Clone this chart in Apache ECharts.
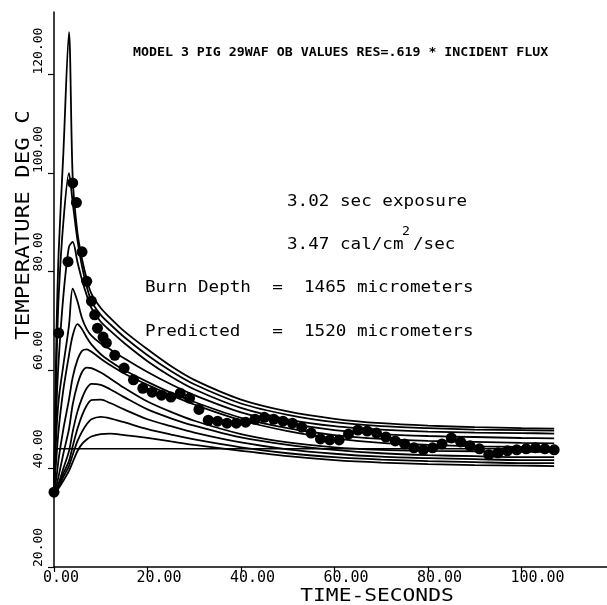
<!DOCTYPE html>
<html>
<head>
<meta charset="utf-8">
<script src="https://cdn.jsdelivr.net/npm/echarts@6/dist/echarts.min.js"></script>
<style>
html,body{margin:0;padding:0;background:#fff;}
#chart{width:607px;height:605px;}
</style>
</head>
<body>
<div id="chart"></div>
<script>
// ---- data ----
const TIME = [0, 0.5, 1, 2, 3.2, 4, 5, 6, 7, 8, 10, 12, 15, 20, 25, 30, 40, 50, 60, 70, 80, 90, 100, 107];
const CURVE_1  = [35.5, 66, 84, 104, 128.6, 99, 88, 82.5, 78.5, 75.5, 72.6, 70.6, 67.9, 64.2, 60.8, 58, 54, 51.6, 50.1, 49.2, 48.7, 48.4, 48.2, 48.1];
const CURVE_2  = [35.5, 60, 75, 90, 100, 94, 86.5, 81, 77, 74, 71.2, 69.3, 66.7, 63, 59.8, 57.1, 53.2, 50.9, 49.4, 48.6, 48.2, 47.9, 47.8, 47.7];
const CURVE_3  = [35.5, 52, 62, 75, 85, 86, 82, 78.3, 75.2, 72.6, 69.8, 68, 65.5, 61.8, 58.7, 56.1, 52.3, 50, 48.6, 47.9, 47.5, 47.3, 47.2, 47.1];
const CURVE_4  = [35.5, 47, 54, 61, 69, 76.5, 74, 70.5, 68.3, 67, 65.4, 64.2, 62.4, 59.6, 57.1, 54.9, 51.4, 49.2, 47.8, 47, 46.6, 46.4, 46.2, 46.1];
const CURVE_5  = [35.5, 42, 48, 56, 63, 67, 69.3, 68.3, 66.6, 65.2, 63.2, 61.8, 60, 57.6, 55.4, 53.5, 50.3, 48.2, 46.8, 46, 45.6, 45.4, 45.2, 45.1];
const CURVE_6  = [35.5, 38, 42, 48, 54, 58.5, 62, 63.9, 64.2, 63.7, 62.3, 61, 59.3, 57, 54.9, 53, 49.8, 47.6, 46.1, 45.2, 44.8, 44.5, 44.4, 44.3];
const CURVE_7  = [35.5, 36.5, 38.5, 43, 48, 53, 57, 59.6, 60.5, 60.4, 59.5, 58.3, 56.4, 53.6, 51.5, 49.7, 47, 45.3, 44.3, 43.8, 43.6, 43.5, 43.4, 43.4];
const CURVE_8  = [35.5, 36, 37, 40, 43.5, 47.5, 51.5, 54.3, 56.3, 57.2, 57, 56.1, 54.5, 52, 50.2, 48.7, 46.3, 44.8, 43.8, 43.1, 42.7, 42.5, 42.3, 42.3];
const CURVE_9  = [35.5, 35.8, 36.5, 39, 41.5, 44.5, 48, 50.8, 52.8, 53.9, 54, 53.3, 52, 50, 48.6, 47.3, 45.3, 43.9, 43, 42.4, 42.1, 41.9, 41.7, 41.7];
const CURVE_10 = [35.5, 35.7, 36.2, 38.3, 40.5, 42.8, 45.5, 47.5, 49, 50, 50.5, 50.2, 49.4, 48, 46.9, 45.9, 44.3, 43.1, 42.3, 41.8, 41.5, 41.3, 41.1, 41.1];
const CURVE_11 = [35.5, 35.6, 36, 37.5, 39.5, 41.3, 43.5, 45, 45.9, 46.5, 47, 47.1, 46.8, 46.2, 45.5, 44.8, 43.6, 42.5, 41.7, 41.2, 40.9, 40.7, 40.6, 40.5];
const CURVES = [CURVE_1, CURVE_2, CURVE_3, CURVE_4, CURVE_5, CURVE_6, CURVE_7, CURVE_8, CURVE_9, CURVE_10, CURVE_11];

const MEAS_T = [0, 1, 3, 4, 4.8, 6, 7, 8, 8.7, 9.3, 10.5, 11.2, 13, 15, 17, 19, 21, 23, 25, 27, 29, 31, 33, 35, 37, 39, 41, 43, 45, 47, 49, 51, 53, 55, 57, 59, 61, 63, 65, 67, 69, 71, 73, 75, 77, 79, 81, 83, 85, 87, 89, 91, 93, 95, 97, 99, 101, 103, 105, 107];
const MEAS_V = [35.2, 67.5, 82, 98, 94, 84, 78, 74, 71.2, 68.5, 66.7, 65.5, 63, 60.4, 58, 56.3, 55.5, 54.9, 54.5, 55.3, 54.3, 52, 49.8, 49.6, 49.2, 49.2, 49.4, 50, 50.4, 50, 49.6, 49.2, 48.4, 47.2, 46, 45.8, 45.8, 47, 47.8, 47.6, 47.2, 46.4, 45.6, 45, 44.2, 43.8, 44.2, 45, 46.2, 45.4, 44.6, 44, 42.8, 43.2, 43.6, 43.8, 44, 44.2, 44, 43.8];

const REF_LEVEL = 44;
const REF_T = [0, 107];
const X_TICKS = [0, 20, 40, 60, 80, 100];
const Y_TICKS = [20, 40, 60, 80, 100, 120];

const TITLE = 'MODEL 3 PIG 29WAF OB VALUES RES=.619 * INCIDENT FLUX';
const NOTE_1 = '3.02 sec exposure';
const NOTE_2A = '3.47 cal/cm', NOTE_2B = '2', NOTE_2C = '/sec';
const NOTE_3 = 'Burn Depth  =  1465 micrometers';
const NOTE_4 = 'Predicted   =  1520 micrometers';
const X_NAME = 'TIME-SECONDS';
const Y_NAME = 'TEMPERATURE DEG C';

// ---- chart ----
const MONO = '"DejaVu Sans Mono", monospace';
const chart = echarts.init(document.getElementById('chart'), null, {renderer: 'canvas'});

const series = CURVES.map(c => ({
  type: 'line',
  data: TIME.map((t, i) => [t, c[i]]),
  showSymbol: false,
  smooth: 0.3,
  lineStyle: {color: '#000', width: 1.8},
  silent: true,
  z: 2
}));
series.push({
  type: 'line',
  data: REF_T.map(t => [t, REF_LEVEL]),
  showSymbol: false,
  lineStyle: {color: '#000', width: 1.5},
  z: 2
});
series.push({
  type: 'scatter',
  data: MEAS_T.map((t, i) => [t, MEAS_V[i]]),
  symbol: 'circle',
  symbolSize: 11,
  itemStyle: {color: '#000', opacity: 1},
  z: 3
});

const option = {
  animation: false,
  backgroundColor: '#fff',
  grid: {left: 54, right: 0, top: 12, bottom: 38, containLabel: false},
  xAxis: {
    type: 'value', min: 0, max: 118.3, interval: 20,
    splitLine: {show: false},
    axisLine: {show: true, lineStyle: {color: '#000', width: 1.5}},
    axisTick: {show: true, customValues: X_TICKS, length: 5, lineStyle: {color: '#000', width: 1.2}},
    axisLabel: {
      customValues: X_TICKS,
      formatter: v => v.toFixed(2),
      color: '#000', fontFamily: MONO, fontSize: 15,
      align: 'left', padding: [0, 0, 0, -11], margin: 4
    }
  },
  yAxis: {
    type: 'value', min: 20, max: 132.7, interval: 20,
    splitLine: {show: false},
    axisLine: {show: true, lineStyle: {color: '#000', width: 1.5}},
    axisTick: {show: true, customValues: Y_TICKS, length: 6, lineStyle: {color: '#000', width: 1.2}},
    axisLabel: {
      customValues: Y_TICKS,
      formatter: v => v.toFixed(2),
      rotate: 90,
      color: '#000', fontFamily: MONO, fontSize: 13,
      align: 'left', verticalAlign: 'bottom', margin: 9
    }
  },
  graphic: [
    {type: 'text', x: 133, y: 53, scaleX: 1.105, style: {text: TITLE, font: 'bold 12px ' + MONO, fill: '#000', textVerticalAlign: 'middle'}},
    {type: 'text', x: 287, y: 202, scaleX: 1.10, style: {text: NOTE_1, font: '16px ' + MONO, fill: '#000', textVerticalAlign: 'middle'}},
    {type: 'text', x: 287, y: 245, scaleX: 1.10, style: {text: NOTE_2A, font: '16px ' + MONO, fill: '#000', textVerticalAlign: 'middle'}},
    {type: 'text', x: 402, y: 232, scaleX: 1.10, style: {text: NOTE_2B, font: '12px ' + MONO, fill: '#000', textVerticalAlign: 'middle'}},
    {type: 'text', x: 413, y: 245, scaleX: 1.10, style: {text: NOTE_2C, font: '16px ' + MONO, fill: '#000', textVerticalAlign: 'middle'}},
    {type: 'text', x: 145, y: 288, scaleX: 1.10, style: {text: NOTE_3, font: '16px ' + MONO, fill: '#000', textVerticalAlign: 'middle'}},
    {type: 'text', x: 145, y: 332, scaleX: 1.10, style: {text: NOTE_4, font: '16px ' + MONO, fill: '#000', textVerticalAlign: 'middle'}},
    {type: 'text', x: 377, y: 596, scaleX: 1.18, style: {text: X_NAME, font: '18px ' + MONO, fill: '#000', textAlign: 'center', textVerticalAlign: 'middle'}},
    {type: 'text', x: 24, y: 225, rotation: Math.PI / 2, scaleX: 1.18, style: {text: Y_NAME, font: '19px ' + MONO, fill: '#000', textAlign: 'center', textVerticalAlign: 'middle'}}
  ],
  series: series
};
chart.setOption(option);
</script>
</body>
</html>
